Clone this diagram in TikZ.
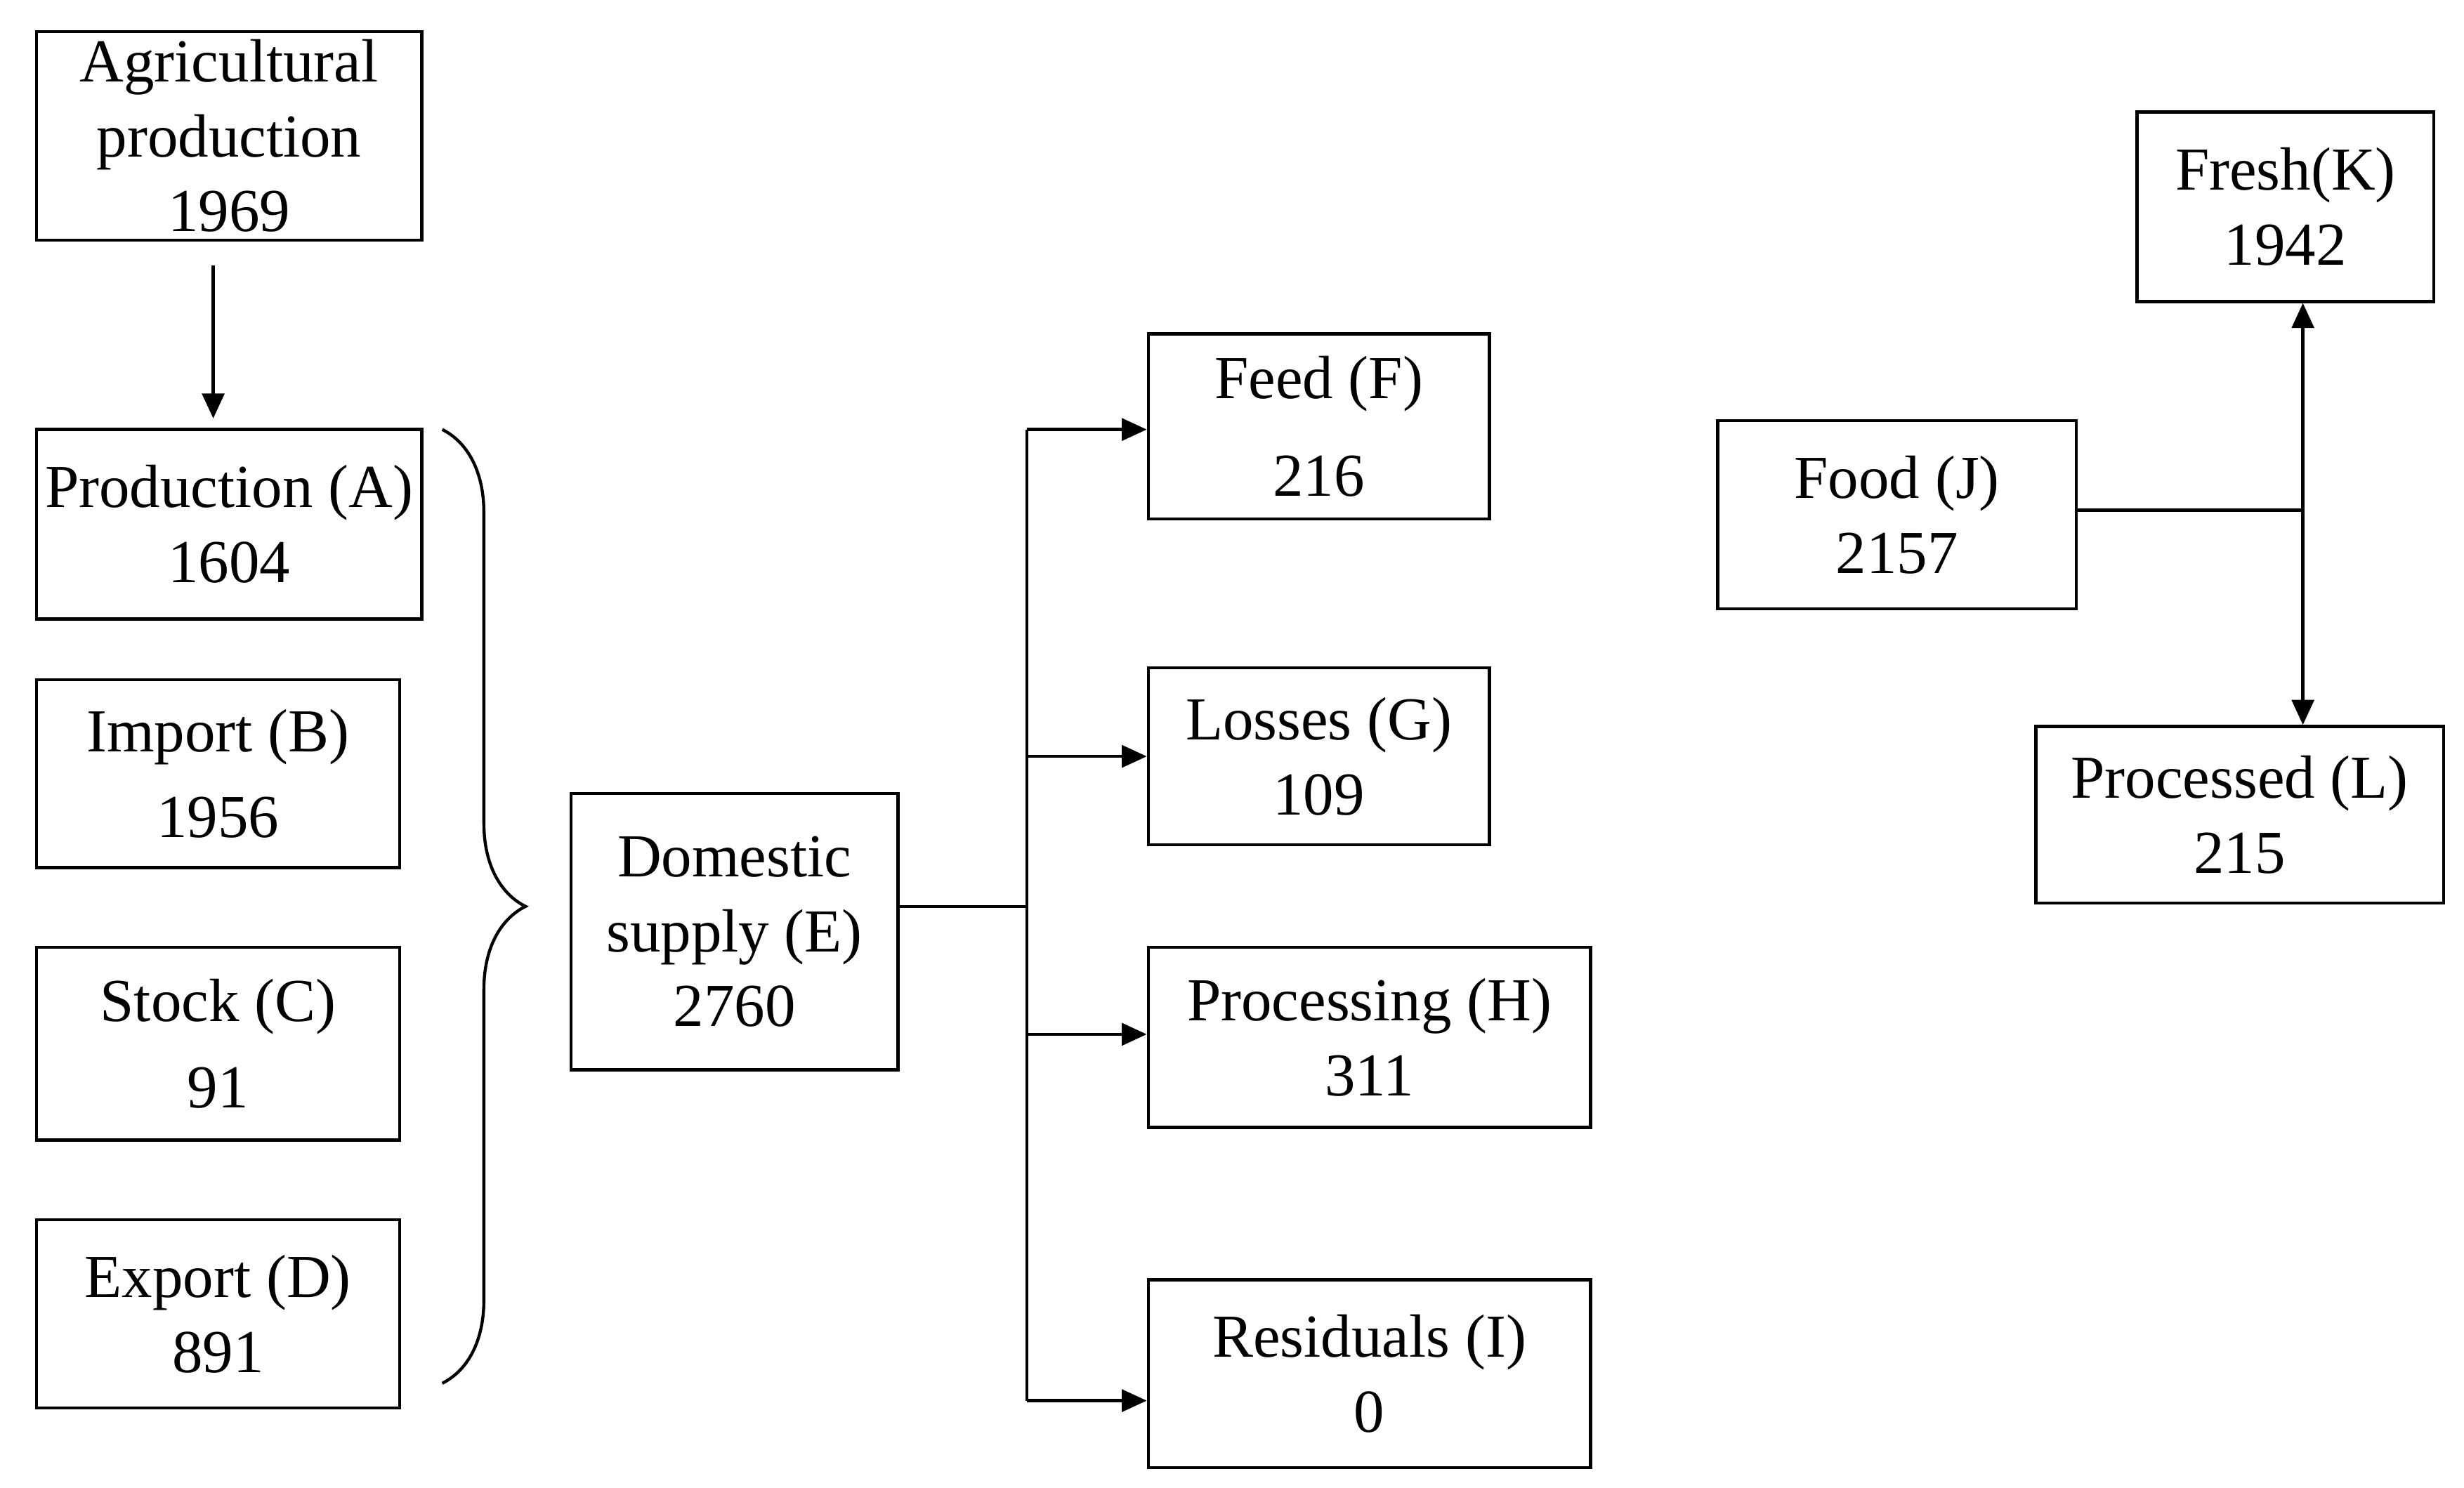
\documentclass[tikz,border=0pt]{standalone}
\usepackage{fontspec}
\setmainfont{Liberation Serif}
\usetikzlibrary{arrows.meta,decorations.pathreplacing}

\begin{document}
\begin{tikzpicture}[x=0.02cm,y=-0.02cm,
    box/.style={draw, line width=1.1pt, align=center, inner sep=0pt,
      font=\fontsize{22}{27}\selectfont},
    bsize/.style 2 args={minimum width=#1*0.02cm, minimum height=#2*0.02cm},
    flow/.style={line width=1.1pt, -{Triangle[length=9pt,width=8pt]}},
    link/.style={line width=1.1pt}]
        \useasboundingbox (0,0) rectangle (1560,942);
        % Balance side
        \node[box, bsize={244}{132}] (agri) at (145,86) {Agricultural\\production\\1969};
        \node[box, bsize={244}{120}] (prodA) at (145,332) {Production (A)\\1604};
        \node[box, bsize={230}{119}] (impB) at (138,490) {Import (B)\\[4pt]1956};
        \node[box, bsize={230}{122}] (stockC) at (138,661) {Stock (C)\\[4pt]91};
        \node[box, bsize={230}{119}] (expD) at (138,832) {Export (D)\\891};
        \node[box, bsize={207}{175}] (domE) at (465,590) {Domestic\\supply (E)\\2760};

        % Uses
        \node[box, bsize={216}{117}] (feedF) at (835,270) {Feed (F)\\[8pt]216};
        \node[box, bsize={216}{112}] (lossG) at (835,479) {Losses (G)\\109};
        \node[box, bsize={280}{114}] (procH) at (867,657) {Processing (H)\\311};
        \node[box, bsize={280}{119}] (resI) at (867,870) {Residuals (I)\\0};

        % Food split
        \node[box, bsize={227}{119}] (foodJ) at (1201,326) {Food (J)\\2157};
        \node[box, bsize={188}{120}] (freshK) at (1447,131) {Fresh(K)\\1942};
        \node[box, bsize={258}{112}] (procL) at (1418,516) {Processed (L)\\215};

        % Connections
        \draw[flow] (135,168) -- (135,265);
        \draw[link, decorate, decoration={brace, amplitude=30pt}] (280,272) -- (280,876);
        \coordinate (trunk) at (650,574);
        \draw[link] (domE.east |- trunk) -- (trunk);
        \draw[link] (650,272) -- (650,887);
        \draw[flow] (650,272) -- (feedF.west |- 0,272);
        \draw[flow] (650,479) -- (lossG.west);
        \draw[flow] (650,655) -- (procH.west |- 0,655);
        \draw[flow] (650,887) -- (resI.west |- 0,887);
        \coordinate (fork) at (1458,323);
        \draw[link] (foodJ.east |- fork) -- (fork);
        \draw[flow] (fork) -- (fork |- freshK.south);
        \draw[flow] (fork) -- (fork |- procL.north);
    \end{tikzpicture}
\end{document}
